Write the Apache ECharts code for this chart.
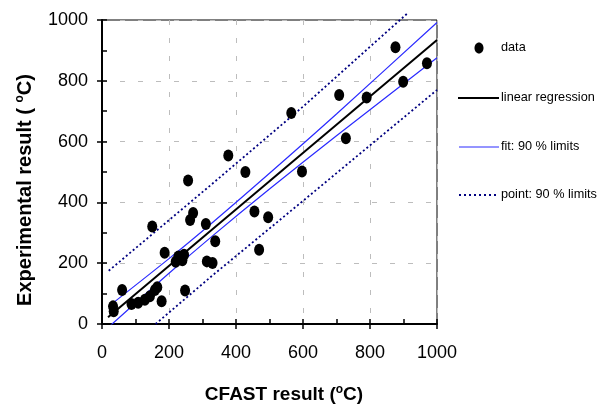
<!DOCTYPE html>
<html>
<head>
<meta charset="utf-8">
<script src="https://cdn.jsdelivr.net/npm/echarts@6/dist/echarts.min.js"></script>
<style>
html,body{margin:0;padding:0;background:#fff;}
#chart{width:602px;height:409px;}
</style>
</head>
<body>
<div id="chart"></div>
<script>
// Measured data (CFAST result vs experimental result, °C)
const cfast        = [33, 35, 60, 88, 108, 128, 143, 158, 165, 178, 150, 187, 220, 228, 245, 240, 248, 257, 263, 272, 310, 313, 330, 338, 377, 428, 455, 469, 496, 565, 597, 708, 728, 790, 876, 899, 970];
const experimental = [58, 42, 112, 66, 70, 80, 91, 112, 121, 75, 321, 234, 205, 222, 228, 210, 110, 472, 342, 365, 329, 206, 201, 272, 554, 500, 370, 244, 351, 694, 502, 753, 611, 745, 910, 797, 858];

// Lines
const regX = [18, 1000];
const regY = [22, 934];
const fitX = [20, 200, 330, 500, 700, 1000];
const fitUpper = [58, 215, 334, 496, 691, 992];
const fitLower = [-10, 167, 290, 444, 619, 876];
const ptUpperX = [20, 330, 600, 915];
const ptUpperY = [175, 462, 715, 1025];
const ptLowerX = [160, 330, 600, 1000];
const ptLowerY = [0, 160, 405, 770];

const axisTicks = [0, 200, 400, 600, 800, 1000];
const legendNames = ['data', 'linear regression', 'fit: 90 % limits', 'point: 90 % limits'];

const pairs = (xs, ys) => xs.map((x, i) => [x, ys[i]]);

const chart = echarts.init(document.getElementById('chart'), null, {renderer: 'canvas'});
const FONT = 'Liberation Sans, Arial, sans-serif';

const mainAxis = (pos) => ({
  type: 'value', min: axisTicks[0], max: axisTicks[axisTicks.length - 1], interval: axisTicks[1] - axisTicks[0],
  position: pos,
  axisLine: {show: true, onZero: false, lineStyle: {color: '#000', width: 2}},
  axisTick: {show: true, inside: false, length: 5, lineStyle: {color: '#000', width: 1.5}},
  axisLabel: {show: true, color: '#000', fontSize: 18, fontFamily: FONT, margin: pos === 'left' ? 14 : 20,
              formatter: (v) => String(v)},
  splitLine: {show: true, lineStyle: {color: '#bdbdbd', width: 1, type: [5, 13]}}
});
const minorAxis = (pos) => ({
  type: 'value', min: 0, max: 1000, interval: 100, position: pos,
  axisLine: {show: false, onZero: false},
  axisTick: {show: true, inside: true, length: 5, lineStyle: {color: '#000', width: 1.5}},
  axisLabel: {show: false},
  splitLine: {show: false}
});

const LX0 = 459, LX1 = 499, LT = 501;
const legendText = (t, y) => ({type: 'text', x: LT, y: y, style: {text: t, fontFamily: FONT, fontSize: 12.7, fill: '#000', verticalAlign: 'middle', align: 'left'}});

const option = {
  backgroundColor: '#fff',
  animation: false,
  grid: {left: 102, right: 165, top: 20, bottom: 85, show: true, borderColor: '#000', borderWidth: 1, backgroundColor: '#fff'},
  xAxis: [mainAxis('bottom'), minorAxis('bottom')],
  yAxis: [mainAxis('left'), minorAxis('left')],
  graphic: [
    {type: 'text', x: 284, y: 395, style: {
      text: '{a|CFAST result (}{s|o}{a|C)}', align: 'center', verticalAlign: 'middle',
      rich: {
        a: {fontFamily: FONT, fontSize: 19, fontWeight: 'bold', fill: '#000', lineHeight: 22},
        s: {fontFamily: FONT, fontSize: 12, fontWeight: 'bold', fill: '#000', lineHeight: 12, verticalAlign: 'top'}
      }}},
    {type: 'text', x: 25, y: 190, rotation: Math.PI / 2, style: {
      text: '{a|Experimental result ( }{s|o}{a|C)}', align: 'center', verticalAlign: 'middle',
      rich: {
        a: {fontFamily: FONT, fontSize: 20, fontWeight: 'bold', fill: '#000', lineHeight: 23},
        s: {fontFamily: FONT, fontSize: 12, fontWeight: 'bold', fill: '#000', lineHeight: 12, verticalAlign: 'top'}
      }}},
    // legend
    {type: 'ellipse', shape: {cx: 479, cy: 48, rx: 4.5, ry: 5.5}, style: {fill: '#000'}},
    legendText(legendNames[0], 47),
    {type: 'line', shape: {x1: LX0 - 1, y1: 98, x2: LX1, y2: 98}, style: {stroke: '#000', lineWidth: 2}},
    legendText(legendNames[1], 97),
    {type: 'line', shape: {x1: LX0, y1: 147, x2: LX1, y2: 147}, style: {stroke: '#2a2aff', lineWidth: 1}},
    legendText(legendNames[2], 146),
    {type: 'line', shape: {x1: LX0, y1: 195, x2: LX1 - 1, y2: 195}, style: {stroke: '#000080', lineWidth: 1.8, lineDash: [2, 3]}},
    legendText(legendNames[3], 194)
  ],
  series: [
    {name: legendNames[3], type: 'line', data: pairs(ptUpperX, ptUpperY), symbol: 'none', clip: false,
     lineStyle: {color: '#000080', width: 1.8, type: [2, 2.5]}, z: 2},
    {name: legendNames[3], type: 'line', data: pairs(ptLowerX, ptLowerY), symbol: 'none',
     lineStyle: {color: '#000080', width: 1.8, type: [2, 2.5]}, z: 2},
    {name: legendNames[2], type: 'line', data: pairs(fitX, fitUpper), symbol: 'none', smooth: 0.3,
     lineStyle: {color: '#2a2aff', width: 1.2}, z: 3},
    {name: legendNames[2], type: 'line', data: pairs(fitX, fitLower), symbol: 'none', smooth: 0.3,
     lineStyle: {color: '#2a2aff', width: 1.2}, z: 3},
    {name: legendNames[1], type: 'line', data: pairs(regX, regY), symbol: 'none',
     lineStyle: {color: '#000', width: 2}, z: 4},
    {name: legendNames[0], type: 'scatter', data: pairs(cfast, experimental), symbol: 'circle', symbolSize: [10, 12],
     itemStyle: {color: '#000', opacity: 1}, z: 5}
  ]
};
chart.setOption(option);
</script>
</body>
</html>
